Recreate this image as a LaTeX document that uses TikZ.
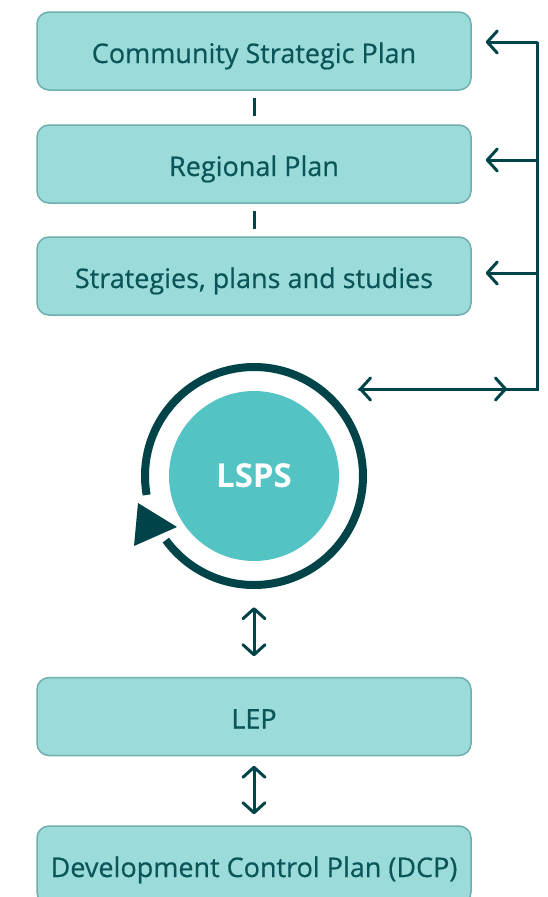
\documentclass[tikz,border=0pt]{standalone}
\usepackage{fontspec}
\setmainfont{Open Sans}
\newfontfamily\boxfont{Open Sans}[FakeBold=0.5]
\usetikzlibrary{arrows.meta}
\definecolor{boxfill}{HTML}{9BDBDA}
\definecolor{boxline}{HTML}{6FAEAE}
\definecolor{boxtext}{HTML}{0A5558}
\definecolor{dark}{HTML}{00444A}
\definecolor{lspsfill}{HTML}{53C3C3}
\tikzset{
  planbox/.style={draw=boxline, line width=1.5pt, fill=boxfill, rounded corners=12pt,
    minimum width=434pt, minimum height=78pt, inner sep=0pt, text=boxtext,
    text height=24pt, text depth=0pt,
    font=\boxfont\fontsize{27}{30}\selectfont},
  link/.style={draw=dark, line width=3pt},
  chev/.style={draw=dark, line width=3pt, line cap=round,
    arrows={-{Straight Barb[length=10pt,width=22pt,round]}}},
  dchev/.style={draw=dark, line width=3pt, line cap=round,
    arrows={{Straight Barb[length=10pt,width=22pt,round]}-{Straight Barb[length=10pt,width=22pt,round]}}},
}
\begin{document}
\begin{tikzpicture}[x=1pt,y=-1pt]
\useasboundingbox (0,0) rectangle (548,897);
\begin{scope}
\clip (0,0) rectangle (548,897);
\node[planbox] (csp) at (254,51) {Community Strategic Plan};
\node[planbox] (rp) at (254,164) {Regional Plan};
\node[planbox] (sps) at (254,276) {Strategies, plans and studies};
\node[planbox] (lep) at (254,716.5) {LEP};
\node[planbox] (dcp) at (254,865) {Development Control Plan (DCP)};

% bars between top boxes
\draw[link] ([yshift=-7pt]csp.south) -- ([yshift=8pt]rp.north);
\draw[link] ([yshift=-7pt]rp.south) -- ([yshift=7pt]sps.north);

% LSPS circle and ring
\node[circle, fill=lspsfill, minimum size=170pt, inner sep=0pt, text=white,
  font=\fontsize{33}{36}\selectfont\bfseries] (lsps) at (254,476) {LSPS};
\draw[dark, line width=8pt] (lsps.center) ++(170:109) arc[start angle=170, end angle=504, radius=109];
\fill[dark] (138,503) -- (177,527) -- (134,546) -- cycle;

% trunk
\coordinate (t1) at (537,42);
\coordinate (t2) at (537,160);
\coordinate (t3) at (537,273);
\coordinate (t4) at (537,389);
\coordinate (lt) at (359,389);
\coordinate (rt) at (507,389);
\draw[draw=dark, line width=3pt, line join=miter] (t1) -- (t4) -- (lt);
\draw[chev] (t1) -- ([xshift=14pt]csp.east |- t1);
\draw[chev] (t2) -- ([xshift=14pt]rp.east |- t2);
\draw[chev] (t3) -- ([xshift=14pt]sps.east |- t3);
\draw[chev] (rt) -- (lt);
\draw[chev] (lt) -- (rt);

% vertical double arrows
\draw[dchev] ([yshift=-46pt]lsps.south) -- ([yshift=20.5pt]lep.north);
\draw[dchev] ([yshift=-9.5pt]lep.south) -- ([yshift=11pt]dcp.north);
\end{scope}
\end{tikzpicture}
\end{document}
